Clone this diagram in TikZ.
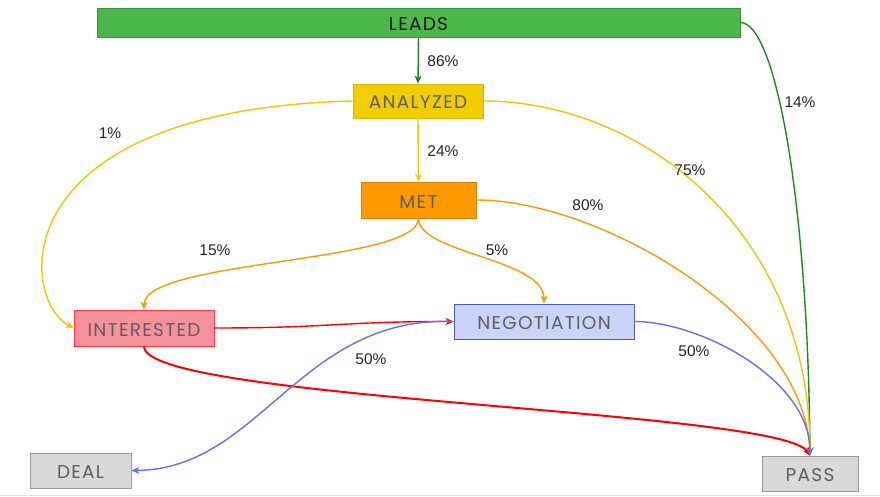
\documentclass[tikz,border=0pt]{standalone}
\usepackage{fontspec}
\setmainfont{Liberation Sans}
\newfontfamily\boxfont[LetterSpace=7]{Poppins}
\usetikzlibrary{arrows.meta}
\definecolor{gfill}{HTML}{4CB74A}
\definecolor{gdraw}{HTML}{3A8F38}
\definecolor{gedge}{HTML}{1E8A1E}
\definecolor{yfill}{HTML}{F0CC00}
\definecolor{ydraw}{HTML}{D9B800}
\definecolor{yedge}{HTML}{F2C500}
\definecolor{ofill}{HTML}{FF9900}
\definecolor{odraw}{HTML}{D98200}
\definecolor{oedge}{HTML}{FF9900}
\definecolor{rfill}{HTML}{F4919A}
\definecolor{rdraw}{HTML}{FF3B3B}
\definecolor{redge}{HTML}{FF0000}
\definecolor{bfill}{HTML}{C9D4F8}
\definecolor{bdraw}{HTML}{4A5FB0}
\definecolor{bedge}{HTML}{6272EE}
\definecolor{nfill}{HTML}{D9D9D9}
\definecolor{ndraw}{HTML}{999999}
\definecolor{btext}{HTML}{5E5E5E}
\tikzset{
  stage/.style={draw, line width=0.8pt, inner sep=0pt, text height=16pt, text depth=0pt, font=\boxfont\fontsize{18.5}{20}\selectfont, text=btext},
  flow/.style={line width=1.4pt, -{Stealth[length=8pt,width=7pt,inset=2.5pt]}},
  pct/.style={font=\fontsize{15.5}{17}\selectfont, text=black!85},
}
\begin{document}
\begin{tikzpicture}[x=1pt,y=-1pt]
\useasboundingbox (0,0) rectangle (880,497);
\draw[black!12, line width=1pt] (0,495.5) -- (880,495.5);
% nodes
\node[stage, fill=gfill, draw=gdraw, text=black!90, minimum width=643pt, minimum height=29pt] (leads) at (418.5,22.5) {LEADS};
\node[stage, fill=yfill, draw=ydraw, minimum width=130pt, minimum height=34pt] (analyzed) at (418,101) {ANALYZED};
\node[stage, fill=ofill, draw=odraw, minimum width=115pt, minimum height=36pt] (met) at (418.5,200) {MET};
\node[stage, fill=rfill, draw=rdraw, minimum width=140pt, minimum height=36pt] (interested) at (144,328) {INTERESTED};
\node[stage, fill=bfill, draw=bdraw, minimum width=180pt, minimum height=35pt] (negotiation) at (544,321.5) {NEGOTIATION};
\node[stage, fill=nfill, draw=ndraw, minimum width=101pt, minimum height=35pt] (deal) at (80.5,470.5) {DEAL};
\node[stage, fill=nfill, draw=ndraw, minimum width=96pt, minimum height=35pt] (pass) at (810,473.5) {PASS};
% edges
\draw[flow, gedge] (leads.south) -- (analyzed.north);
\draw[flow, gedge] (leads.east) .. controls +(35,0) and +(-2,-256) .. (pass.north);
\draw[flow, yedge] (analyzed.south) -- (met.north);
\draw[flow, yedge] (analyzed.west) .. controls +(-353,9) and +(-54,-28) .. (interested.west);
\draw[flow, yedge] (analyzed.east) .. controls +(157,0) and +(0,-226) .. (pass.north);
\draw[flow, oedge] (met.east) .. controls +(124,0) and +(-5,-136) .. (pass.north);
\draw[flow, oedge] (met.south) .. controls +(0,45) and +(0,-50) .. (interested.north);
\draw[flow, oedge] (met.south) .. controls +(0,35) and +(0,-45) .. (negotiation.north);
\draw[flow, redge] (interested.east) .. controls +(116,0) and +(-114,0) .. (negotiation.west);
\draw[flow, redge, line width=2pt] (interested.south) .. controls +(0,54) and +(-30,-46) .. (pass.north);
\draw[flow, bedge] (negotiation.west) .. controls +(-154,-6) and +(129,-1) .. (deal.east);
\draw[flow, bedge] (negotiation.east) .. controls +(66,0) and +(0,-76) .. (pass.north);
% labels
\node[pct] (l86) at (443,61) {86\%};
\node[pct] (l14) at (800,102) {14\%};
\node[pct] (l1) at (110,133) {1\%};
\node[pct] (l24) at (443,151) {24\%};
\node[pct] (l75) at (690,170) {75\%};
\node[pct] (l80) at (588,205) {80\%};
\node[pct] (l15) at (215,250) {15\%};
\node[pct] (l5) at (497,250) {5\%};
\node[pct] (l50a) at (371,359) {50\%};
\node[pct] (l50b) at (694,351) {50\%};
\end{tikzpicture}
\end{document}
